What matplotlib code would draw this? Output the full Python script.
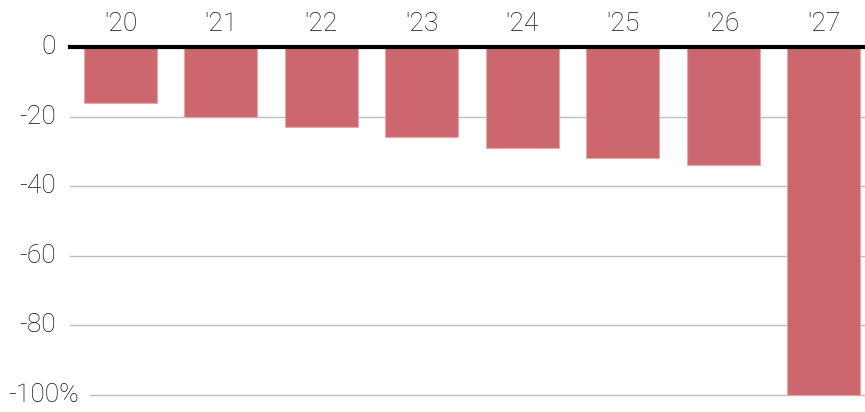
import matplotlib
matplotlib.use("Agg")
import matplotlib.pyplot as plt

years = ["'20", "'21", "'22", "'23", "'24", "'25", "'26", "'27"]
values = [-16, -20, -23, -26, -29, -32, -34, -100]
yticks = [0, -20, -40, -60, -80, -100]
ytick_labels = ["0", "-20", "-40", "-60", "-80", "-100%"]

bar_color = "#cc686d"
font = ["Roboto", "DejaVu Sans"]


def main():
    fig = plt.figure(figsize=(8.65, 4.12), dpi=100)
    # axes placed in pixels: left 70, right 865, top 47, bottom 395
    ax = fig.add_axes([70 / 865, (412 - 395) / 412, 795 / 865, 348 / 412])

    x = list(range(len(values)))
    ax.bar(x, values, width=0.725, color=bar_color, edgecolor="#e8a6a9",
           linewidth=0.8, zorder=2, clip_on=False)

    ax.set_xlim(-0.502, 7.41)
    ax.set_ylim(-100, 0)

    # gridlines
    for t in yticks[1:]:
        xmin = 20 / 795 if t == -100 else 0
        ax.axhline(t, xmin=xmin, xmax=1, color="#bdbdbd", linewidth=1,
                   zorder=1, clip_on=False)
    ax.axhline(0, color="black", linewidth=3, zorder=3, clip_on=False)

    for s in ax.spines.values():
        s.set_visible(False)
    ax.set_xticks([])
    ax.set_yticks([])

    ytr = ax.get_yaxis_transform()
    for t, lab in zip(yticks, ytick_labels):
        xpos = 9 / 795 if lab.endswith("%") else -14 / 795
        ax.text(xpos, t, lab, transform=ytr, ha="right", va="center",
                fontsize=19, family=font, weight="light", color="#111111")

    xtr = ax.get_xaxis_transform()
    for xi, lab in zip(x, years):
        ax.text(xi, 1 + 23 / 348, lab, transform=xtr, ha="center",
                va="center", fontsize=19, family=font, weight="light",
                color="#111111")

    fig.savefig("out.png", dpi=100)


if __name__ == "__main__":
    main()
